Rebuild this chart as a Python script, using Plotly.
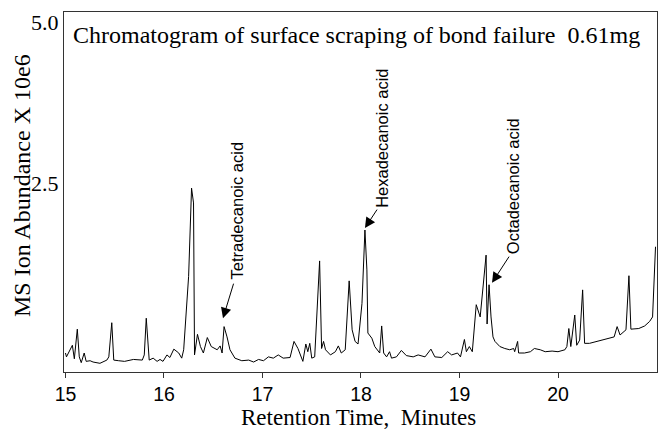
import plotly.graph_objects as go

# Retention time (minutes) and MS ion abundance (x 10e6)
time_min = [15.00, 15.01, 15.07, 15.09, 15.12, 15.14, 15.16, 15.19, 15.21, 15.25,
            15.28, 15.35, 15.42, 15.44, 15.47, 15.49, 15.54, 15.60, 15.69, 15.78,
            15.80, 15.82, 15.85, 15.89, 15.93, 15.96, 15.99, 16.03, 16.06, 16.10,
            16.15, 16.18, 16.20, 16.25, 16.28, 16.30, 16.31, 16.34, 16.37, 16.40,
            16.44, 16.48, 16.54, 16.57, 16.59, 16.61, 16.64, 16.67, 16.72, 16.79,
            16.86, 16.91, 16.96, 17.01, 17.06, 17.11, 17.16, 17.21, 17.28, 17.32,
            17.36, 17.41, 17.44, 17.46, 17.48, 17.50, 17.53, 17.58, 17.60, 17.62,
            17.64, 17.69, 17.74, 17.77, 17.80, 17.84, 17.88, 17.91, 17.94, 17.97,
            18.01, 18.04, 18.06, 18.07, 18.11, 18.14, 18.19, 18.21, 18.23, 18.26,
            18.29, 18.31, 18.36, 18.41, 18.46, 18.53, 18.58, 18.65, 18.71, 18.75,
            18.82, 18.88, 18.92, 18.98, 19.01, 19.05, 19.07, 19.10, 19.13, 19.17,
            19.21, 19.27, 19.28, 19.30, 19.32, 19.34, 19.36, 19.41, 19.46, 19.51,
            19.55, 19.56, 19.59, 19.60, 19.66, 19.72, 19.76, 19.82, 19.87, 19.94,
            20.00, 20.07, 20.09, 20.11, 20.13, 20.17, 20.19, 20.22, 20.25, 20.27,
            20.32, 20.41, 20.51, 20.57, 20.60, 20.63, 20.69, 20.72, 20.74, 20.82,
            20.88, 20.93, 20.96, 20.99]
abundance = [-0.14, -0.20, -0.02, -0.23, 0.23, -0.20, -0.29, -0.14, -0.27, -0.26,
             -0.28, -0.30, -0.25, -0.20, 0.33, -0.25, -0.26, -0.27, -0.24, -0.25,
             -0.17, 0.40, -0.25, -0.22, -0.27, -0.24, -0.27, -0.17, -0.21, -0.08,
             -0.14, -0.22, -0.09, 1.05, 2.42, 2.19, -0.17, 0.15, -0.04, -0.14,
             0.10, -0.04, -0.09, -0.03, -0.14, 0.27, 0.11, -0.09, -0.22, -0.26,
             -0.25, -0.28, -0.24, -0.26, -0.20, -0.22, -0.17, -0.22, -0.21, 0.04,
             -0.07, -0.27, 0.00, -0.12, 0.01, -0.22, -0.20, 1.29, -0.07, 0.04,
             -0.09, -0.17, -0.12, -0.03, -0.14, -0.09, 0.98, 0.22, 0.04, 0.00,
             0.63, 1.77, 1.15, 0.17, 0.09, -0.04, -0.14, 0.28, -0.14, -0.20,
             -0.12, -0.22, -0.20, -0.10, -0.18, -0.20, -0.17, -0.20, -0.08, -0.20,
             -0.21, -0.12, -0.17, -0.14, -0.20, 0.07, -0.12, -0.04, -0.12, 0.61,
             0.42, 1.38, 0.31, 0.92, 0.42, 0.11, 0.04, -0.04, -0.07, -0.09,
             -0.07, -0.12, 0.04, -0.14, -0.14, -0.12, -0.07, -0.09, -0.12, -0.11,
             -0.12, -0.09, -0.04, 0.24, -0.04, 0.45, -0.02, 0.06, 0.84, 0.01,
             0.01, 0.05, 0.09, 0.11, 0.27, 0.14, 0.22, 1.06, 0.23, 0.24,
             0.28, 0.35, 0.42, 1.51]

x_ticks = [15, 16, 17, 18, 19, 20]
y_ticks = [2.5, 5.0]
y_tick_text = ["2.5", "5.0"]

# Labelled compounds: name, peak time, label centre (time, abundance), arrow tail (time, abundance)
peak_names = ["Tetradecanoic acid", "Hexadecanoic acid", "Octadecanoic acid"]
peak_times = [16.61, 18.04, 19.30]
label_pos = [(16.746, 2.08), (18.213, 3.20), (19.543, 2.45)]
arrow_tail = [(16.711, 0.96), (18.173, 2.11), (19.513, 1.38)]
head_offset = [(-0.011, 0.13), (0.0, 0.03), (0.03, 0.03)]

title_text = "Chromatogram of surface scraping of bond failure \u00a00.61mg"
x_title = "Retention Time, \u00a0Minutes"
y_title = "MS Ion Abundance X 10e6"

SERIF = "Liberation Serif, Times New Roman, serif"
SANS = "Liberation Sans, Arial, sans-serif"

L, R, T, B = 64, 10, 12, 59
PW, PH = 667 - L - R, 431 - T - B

fig = go.Figure()
fig.add_trace(go.Scatter(x=time_min, y=abundance, mode="lines",
                         line=dict(color="black", width=1), hoverinfo="skip",
                         showlegend=False))

annotations = []
for name, pt, (lx, ly), (tx, ty), (dx, dy) in zip(peak_names, peak_times, label_pos,
                                                   arrow_tail, head_offset):
    idx = min(range(len(time_min)), key=lambda i: abs(time_min[i] - pt))
    hx, hy = time_min[idx] + dx, abundance[idx] + dy
    annotations.append(dict(x=lx, y=ly, xref="x", yref="y", text=name, textangle=-90,
                            showarrow=False, font=dict(family=SANS, size=16.5, color="black")))
    annotations.append(dict(x=hx, y=hy, xref="x", yref="y", ax=tx, ay=ty,
                            axref="x", ayref="y", text="", showarrow=True,
                            arrowhead=2, arrowsize=2.1, arrowwidth=1, arrowcolor="black"))

annotations.append(dict(x=(71 - L) / PW, y=1 - (35 - T) / PH, xref="paper", yref="paper",
                        xanchor="left", yanchor="middle", text=title_text, showarrow=False,
                        font=dict(family=SERIF, size=24, color="black")))
annotations.append(dict(x=(22 - L) / PW, y=1 - (186 - T) / PH, xref="paper", yref="paper",
                        xanchor="center", yanchor="middle", text=y_title, textangle=-90,
                        showarrow=False, font=dict(family=SERIF, size=24, color="black")))
annotations.append(dict(x=(358 - L) / PW, y=1 - (417 - T) / PH, xref="paper", yref="paper",
                        xanchor="center", yanchor="middle", text=x_title,
                        showarrow=False, font=dict(family=SERIF, size=23, color="black")))

fig.update_layout(
    width=667, height=431,
    margin=dict(l=L, r=R, t=T, b=B),
    paper_bgcolor="white", plot_bgcolor="white",
    annotations=annotations,
    xaxis=dict(range=[14.985, 21.005], tickvals=x_ticks, ticks="outside", ticklen=5,
               tickcolor="#333", showgrid=False, zeroline=False, showline=True,
               linecolor="#333", linewidth=1, mirror=True, ticklabelstandoff=0,
               tickfont=dict(family=SANS, size=19.5, color="black")),
    yaxis=dict(range=[-0.435, 5.155], tickvals=y_ticks, ticktext=y_tick_text, ticks="",
               showgrid=False, zeroline=False, showline=True, linecolor="#333",
               linewidth=1, mirror=True,
               tickfont=dict(family=SERIF, size=22, color="black")),
)

fig.write_html("out.html")
